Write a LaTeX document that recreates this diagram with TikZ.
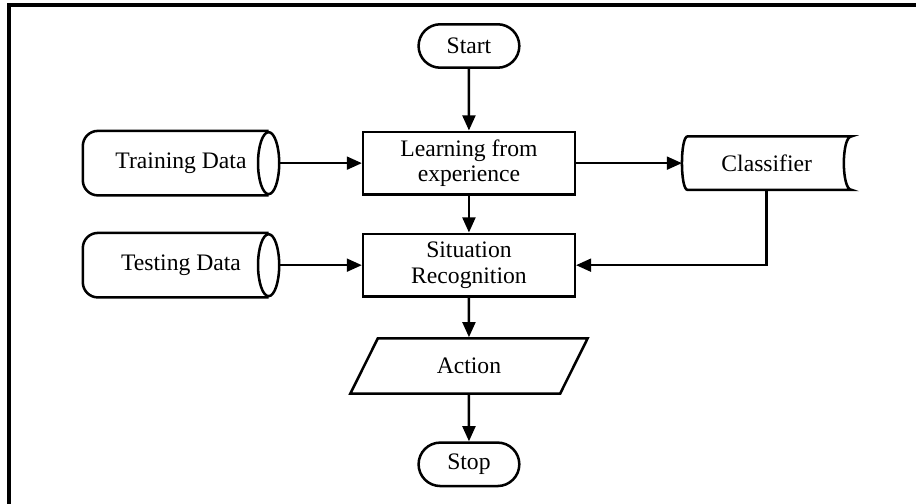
\documentclass[tikz,border=0pt]{standalone}
\usepackage{fontspec}
\setmainfont{Liberation Serif}
\usetikzlibrary{shapes.geometric,shapes.misc,arrows.meta,positioning}

\begin{document}
\begin{tikzpicture}[node distance={27mm}, line width=1.9pt, >={Triangle[length=4mm,width=3.4mm]},
        font=\fontsize{17.8}{19}\selectfont,
        term/.style = {draw, rounded rectangle, minimum width=29mm, minimum height=11.5mm},
        proc/.style = {draw, rectangle, align=center, minimum width=56mm, minimum height=16.6mm},
        store/.style = {minimum width=51.3mm, minimum height=16.4mm},
        io/.style = {draw, trapezium, trapezium left angle=66, trapezium right angle=114, trapezium stretches=true, minimum width=63mm, minimum height=14.6mm}]
        \useasboundingbox (-124.1mm,12.17mm) rectangle (118.3mm,-121.2mm);
        % frame of the scan
        \draw[line width=2.4pt] (-121.7mm,-121.2mm) -- (-121.7mm,10.85mm) -- (118.3mm,10.85mm);

        \node[term] (start) at (0,0) {Start};
        \node[proc] (learn) [node distance=31mm, below of=start] {Learning from\\experience};
        \node[proc] (situ) [node distance=27mm, below of=learn] {Situation\\Recognition};
        \node[io] (action) [node distance=26.7mm, below of=situ] {Action};
        \node[term] (stop) [node distance=26mm, below of=action] {Stop};

        \node[store] (train) [node distance=76.2mm, left of=learn] {Training Data};
        \node[store] (test) [node distance=76.2mm, left of=situ] {Testing Data};
        % data stores: rounded left end, open ellipse on the right
        \foreach \n in {train,test} {
            \draw[rounded corners=4mm] ([xshift=-2.8mm]\n.north east) -- (\n.north west) -- (\n.south west) -- ([xshift=-2.8mm]\n.south east);
            \draw ([xshift=-2.8mm]\n.east) ellipse [x radius=2.8mm, y radius=8.2mm];
        }

        \node[minimum width=44.2mm, minimum height=13.5mm] (cls) [node distance=78.8mm, right of=learn] {Classifier};
        \draw ([xshift=1.5mm]cls.north west) .. controls ([xshift=-0.5mm]cls.north west) and ([xshift=-0.5mm]cls.south west) .. ([xshift=1.5mm]cls.south west)
            -- (cls.south east) .. controls ([xshift=-2.7mm]cls.south east) and ([xshift=-2.7mm]cls.north east) .. (cls.north east) -- cycle;

        \draw[->] (start) -- (learn);
        \draw[->] (learn) -- (situ);
        \draw[->] (situ) -- (action);
        \draw[->] (action) -- (stop);

        \draw[->] (train) -- (learn);
        \draw[->] (test) -- (situ);
        \draw[->] (learn) -- (cls);
        \draw[->] (cls.south) |- (situ.east);
    \end{tikzpicture}
\end{document}
